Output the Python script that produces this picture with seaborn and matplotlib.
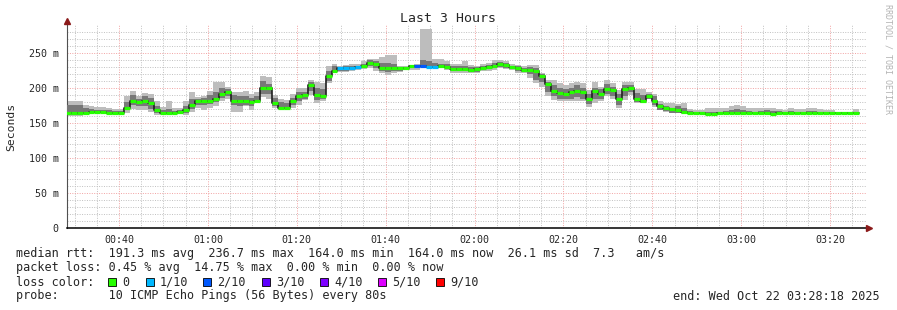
import numpy as np
import pandas as pd
import matplotlib
matplotlib.use("Agg")
import matplotlib.pyplot as plt
import seaborn as sns
from matplotlib.patches import Rectangle

sns.set_style("white")
plt.rcParams["font.family"] = ["DejaVu Sans Mono", "DejaVu Sans"]

# ---------------- data (ms, one value per 80 s step) ----------------
START_MIN = 27.82          # first sample, minutes after midnight
STEP_MIN = 80 / 60

median = [165, 165, 165, 164, 166, 166, 166, 165, 164, 164,
          172, 182, 180, 182, 179, 168, 164, 164, 164, 166,
          168, 176, 182, 182, 182, 184, 192, 194, 182, 181,
          181, 180, 182, 200, 200, 179, 172, 171, 182, 188,
          190, 204, 190, 189, 217, 225, 228, 228, 229, 230,
          231, 236, 234, 229, 228, 228, 228, 228, 231, 231,
          231, 230, 230, 231, 230, 227, 227, 227, 226, 227,
          229, 230, 232, 234, 233, 230, 229, 226, 226, 225,
          217, 206, 196, 193, 192, 194, 196, 194, 185, 196,
          192, 198, 197, 184, 198, 200, 185, 182, 188, 181,
          174, 171, 170, 169, 166, 165, 165, 165, 163, 163,
          164, 164, 165, 165, 164, 164, 164, 165, 165, 163,
          165, 165, 165, 164, 164, 165, 165, 164, 164, 164,
          164, 164, 164, 164]

loss = [0] * 46 + [1, 1, 1, 1] + [0] * 9 + [2, 2, 1, 1] + [0] * 71

ping_lo = [160, 160, 160, 161, 163, 165, 165, 164, 162, 162,
           165, 170, 169, 168, 166, 162, 162, 162, 162, 163,
           162, 166, 172, 169, 171, 174, 181, 184, 166, 166,
           174, 169, 181, 187, 185, 171, 169, 169, 172, 176,
           183, 190, 178, 181, 207, 221, 223, 223, 225, 226,
           227, 228, 225, 221, 219, 221, 223, 226, 226, 226,
           228, 228, 228, 228, 226, 222, 222, 221, 221, 221,
           225, 225, 226, 228, 227, 226, 221, 221, 214, 207,
           202, 188, 183, 181, 181, 181, 181, 181, 173, 178,
           181, 188, 185, 171, 183, 190, 178, 178, 184, 173,
           168, 166, 164, 164, 163, 163, 163, 163, 162, 162,
           162, 163, 163, 163, 163, 163, 163, 163, 163, 162,
           163, 163, 163, 163, 163, 163, 163, 163, 163, 163,
           163, 163, 163, 163]

ping_hi = [181, 181, 181, 176, 174, 173, 173, 171, 170, 170,
           188, 196, 188, 193, 192, 181, 173, 181, 171, 171,
           181, 195, 187, 189, 196, 208, 209, 202, 195, 195,
           196, 192, 195, 217, 216, 190, 185, 183, 191, 200,
           200, 211, 209, 207, 231, 235, 231, 233, 235, 234,
           238, 241, 241, 244, 247, 247, 231, 231, 233, 235,
           285, 285, 241, 241, 239, 235, 235, 238, 233, 231,
           234, 236, 240, 240, 239, 234, 233, 231, 233, 233,
           221, 211, 211, 207, 204, 207, 209, 207, 197, 208,
           202, 211, 207, 197, 209, 208, 198, 198, 195, 192,
           181, 178, 179, 177, 178, 170, 169, 169, 171, 171,
           171, 172, 174, 176, 174, 172, 171, 171, 172, 172,
           170, 169, 171, 170, 170, 171, 171, 170, 169, 169,
           166, 166, 166, 170]

core_lo = [162, 162, 162, 163, 164, 165, 165, 164, 163, 163,
           168, 176, 174, 175, 170, 164, 163, 163, 163, 164,
           164, 170, 176, 176, 177, 180, 186, 188, 176, 175,
           176, 174, 181, 192, 192, 174, 170, 170, 176, 181,
           185, 196, 183, 184, 210, 223, 225, 225, 226, 227,
           228, 232, 229, 225, 223, 224, 225, 226, 228, 228,
           230, 230, 229, 229, 228, 224, 224, 224, 223, 223,
           226, 227, 228, 230, 229, 227, 224, 223, 220, 212,
           208, 195, 188, 185, 184, 185, 187, 185, 177, 185,
           184, 192, 188, 176, 188, 194, 180, 178, 184, 176,
           169, 167, 165, 164, 164, 163, 163, 163, 162, 162,
           163, 163, 163, 164, 163, 163, 163, 163, 163, 162,
           163, 163, 163, 163, 163, 163, 163, 163, 163, 163,
           163, 163, 163, 163]

core_hi = [176, 176, 176, 172, 170, 169, 169, 168, 167, 167,
           180, 190, 184, 188, 186, 174, 168, 170, 167, 168,
           174, 184, 184, 186, 190, 195, 200, 198, 190, 188,
           188, 186, 188, 210, 206, 186, 180, 178, 186, 194,
           194, 208, 200, 198, 224, 232, 230, 231, 232, 232,
           234, 240, 238, 236, 236, 234, 230, 230, 232, 233,
           240, 238, 236, 235, 234, 231, 231, 232, 230, 230,
           232, 233, 236, 237, 236, 232, 231, 229, 230, 228,
           220, 208, 205, 200, 198, 200, 205, 200, 192, 200,
           198, 206, 202, 192, 205, 205, 193, 190, 192, 188,
           177, 175, 172, 174, 172, 167, 166, 166, 166, 166,
           166, 167, 168, 170, 169, 167, 166, 167, 168, 167,
           167, 166, 167, 166, 166, 167, 167, 166, 166, 166,
           165, 165, 165, 166]

LOSS_COLORS = {0: "#26ff00", 1: "#00b8ff", 2: "#0059ff", 3: "#5e00ff",
               4: "#7e00ff", 5: "#dd00ff", 9: "#ff0000"}
LOSS_LABELS = ["0", "1/10", "2/10", "3/10", "4/10", "5/10", "9/10"]
LOSS_KEYS = [0, 1, 2, 3, 4, 5, 9]

Y_TICKS = [0, 50, 100, 150, 200, 250]
Y_LABELS = ["0", "50 m", "100 m", "150 m", "200 m", "250 m"]
X_TICKS = [40, 60, 80, 100, 120, 140, 160, 180, 200]
X_LABELS = ["00:40", "01:00", "01:20", "01:40", "02:00", "02:20",
            "02:40", "03:00", "03:20"]

TITLE = "Last 3 Hours"
LINES = [
    "median rtt:  191.3 ms avg  236.7 ms max  164.0 ms min  164.0 ms now  26.1 ms sd  7.3   am/s",
    "packet loss: 0.45 % avg  14.75 % max  0.00 % min  0.00 % now",
    "loss color:",
    "probe:       10 ICMP Echo Pings (56 Bytes) every 80s",
]
END_TEXT = "end: Wed Oct 22 03:28:18 2025"

# ---------------- figure ----------------
W, H = 897, 310
fig = plt.figure(figsize=(W / 100, H / 100), dpi=100)
fig.patch.set_facecolor("white")
ax = fig.add_axes([67 / W, 1 - 228 / H, 800 / W, 203 / H])
ax.set_facecolor("white")

n = len(median)
t = START_MIN + STEP_MIN * np.arange(n)
t_end = t + STEP_MIN
xs = np.append(t, t_end[-1])


def ext(a):
    a = list(a)
    return np.array(a + [a[-1]], dtype=float)


ax.fill_between(xs, ext(ping_lo), ext(ping_hi), step="post",
                color="#bdbdbd", lw=0, zorder=2)
ax.fill_between(xs, ext(core_lo), ext(core_hi), step="post",
                color="#787878", lw=0, zorder=3)

df = pd.DataFrame({"time": xs, "median": ext(median)})
sns.lineplot(data=df, x="time", y="median", drawstyle="steps-post",
             estimator=None, color="#202020", lw=1.2, ax=ax, zorder=4)

ax.hlines(median, t, t_end, colors=[LOSS_COLORS[l] for l in loss],
          lw=2.3, zorder=5, capstyle="butt")

ax.set_xlim(28.3, 208.3)
ax.set_ylim(0, 290)
ax.set_xlabel("")
ax.set_ylabel("")

ax.set_yticks(Y_TICKS)
ax.set_yticklabels(Y_LABELS)
ax.set_yticks(np.arange(10, 290, 10), minor=True)
ax.set_xticks(X_TICKS)
ax.set_xticklabels(X_LABELS)
ax.set_xticks(np.arange(30, 210, 5), minor=True)

ax.grid(which="minor", color="#c0c0c0", ls=(0, (1, 1.5)), lw=0.7)
ax.grid(which="major", color="#f2a2a2", ls=(0, (1, 1.5)), lw=0.7)
ax.set_axisbelow(True)

ax.tick_params(which="both", direction="out", length=2, width=0.7,
               color="#404040", labelsize=7.2, pad=4)
ax.tick_params(axis="x", which="both", labelsize=7.2, pad=3)
ax.tick_params(which="minor", length=1.2)

for s in ["top", "right"]:
    ax.spines[s].set_visible(False)
ax.spines["left"].set_color("#505050")
ax.spines["left"].set_linewidth(0.8)
ax.spines["bottom"].set_color("black")
ax.spines["bottom"].set_linewidth(1.1)
ax.spines["left"].set_bounds(0, 292)

ax.plot([0], [1.02], marker="^", ms=4, color="#8b1a1a",
        transform=ax.transAxes, clip_on=False, zorder=10)
ax.plot([1.003], [0], marker=">", ms=4, color="#8b1a1a",
        transform=ax.transAxes, clip_on=False, zorder=10)

fig.text(448 / W, 1 - 19 / H, TITLE, ha="center", va="center", fontsize=9.5)
fig.text(11 / W, 1 - 127 / H, "Seconds", rotation=90, ha="center",
         va="center", fontsize=8.2)
fig.text(888 / W, 1 - 59 / H, "RRDTOOL / TOBI OETIKER", rotation=270,
         ha="center", va="center", fontsize=6, color="#b4b4b4")

line_y = [254, 268, 282, 296]
for txt, yy in zip(LINES, line_y):
    fig.text(16 / W, 1 - yy / H, txt, ha="left", va="center", fontsize=8.5)
fig.text(880 / W, 1 - 296 / H, END_TEXT, ha="right", va="center",
         fontsize=8.5)

sw_x = [108, 146, 203, 262, 320, 378, 436]
for key, lab, sx in zip(LOSS_KEYS, LOSS_LABELS, sw_x):
    fig.add_artist(Rectangle((sx / W, 1 - 286 / H), 8 / W, 8 / H,
                             transform=fig.transFigure,
                             facecolor=LOSS_COLORS[key],
                             edgecolor="black", lw=0.6))
    fig.text((sx + 14) / W, 1 - 282 / H, lab, ha="left", va="center",
             fontsize=8.5)

fig.savefig("out.png", dpi=100, facecolor="white")
